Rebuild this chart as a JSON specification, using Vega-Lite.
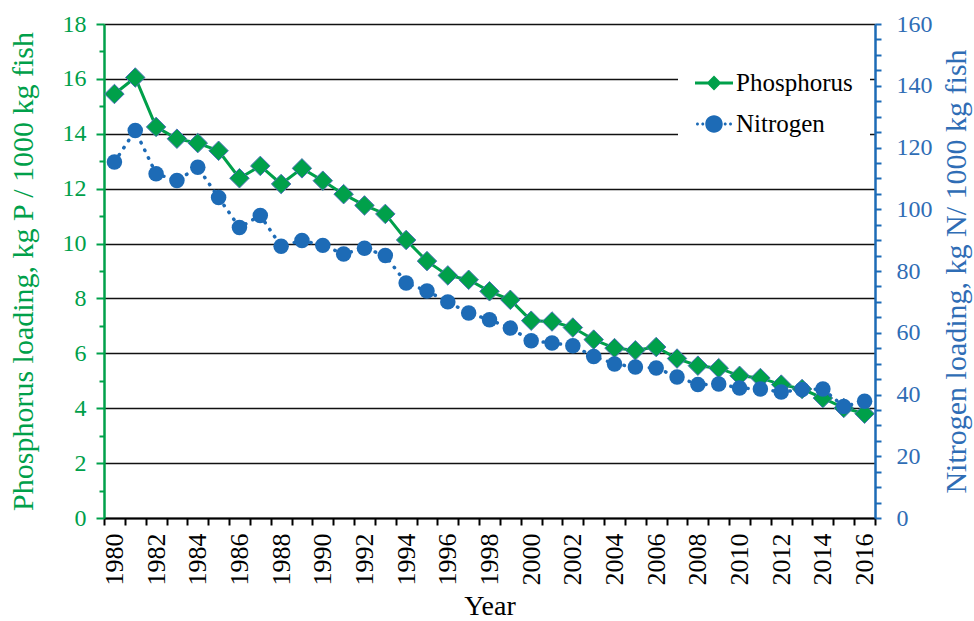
{
  "$schema": "https://vega.github.io/schema/vega-lite/v6.json",
  "width": 771,
  "height": 494,
  "autosize": {"type": "none"},
  "padding": {"left": 104, "top": 24, "right": 99, "bottom": 103},
  "background": "white",
  "config": {
    "view": {"stroke": null},
    "font": "Liberation Serif"
  },
  "data": {
    "values": [
      {"year": 1980, "P": 15.45, "N": 115.3},
      {"year": 1981, "P": 16.05, "N": 125.5},
      {"year": 1982, "P": 14.25, "N": 111.5},
      {"year": 1983, "P": 13.82, "N": 109.3},
      {"year": 1984, "P": 13.66, "N": 113.6},
      {"year": 1985, "P": 13.38, "N": 103.8},
      {"year": 1986, "P": 12.38, "N": 94.1},
      {"year": 1987, "P": 12.83, "N": 98.0},
      {"year": 1988, "P": 12.17, "N": 88.0},
      {"year": 1989, "P": 12.74, "N": 89.9},
      {"year": 1990, "P": 12.29, "N": 88.3},
      {"year": 1991, "P": 11.8, "N": 85.5},
      {"year": 1992, "P": 11.39, "N": 87.4},
      {"year": 1993, "P": 11.08, "N": 85.0},
      {"year": 1994, "P": 10.13, "N": 76.1},
      {"year": 1995, "P": 9.36, "N": 73.5},
      {"year": 1996, "P": 8.84, "N": 70.0},
      {"year": 1997, "P": 8.68, "N": 66.4},
      {"year": 1998, "P": 8.26, "N": 64.2},
      {"year": 1999, "P": 7.95, "N": 61.5},
      {"year": 2000, "P": 7.19, "N": 57.4},
      {"year": 2001, "P": 7.16, "N": 56.7},
      {"year": 2002, "P": 6.94, "N": 55.8},
      {"year": 2003, "P": 6.5, "N": 52.3},
      {"year": 2004, "P": 6.19, "N": 49.9},
      {"year": 2005, "P": 6.11, "N": 48.9},
      {"year": 2006, "P": 6.23, "N": 48.6},
      {"year": 2007, "P": 5.81, "N": 45.7},
      {"year": 2008, "P": 5.55, "N": 43.2},
      {"year": 2009, "P": 5.46, "N": 43.4},
      {"year": 2010, "P": 5.18, "N": 42.1},
      {"year": 2011, "P": 5.1, "N": 41.8},
      {"year": 2012, "P": 4.86, "N": 40.8},
      {"year": 2013, "P": 4.7, "N": 41.6},
      {"year": 2014, "P": 4.37, "N": 41.8},
      {"year": 2015, "P": 4.01, "N": 36.1},
      {"year": 2016, "P": 3.8, "N": 37.8}
    ]
  },
  "encoding": {
    "x": {
      "field": "year",
      "type": "ordinal",
      "scale": {"type": "band", "paddingInner": 0, "paddingOuter": 0},
      "axis": {
        "title": "Year",
        "tickBand": "extent",
        "labelAngle": -90,
        "labelAlign": "right",
        "labelBaseline": "middle",
        "labelOverlap": false,
        "labelExpr": "datum.value % 2 == 0 ? datum.label : ''",
        "labelFont": "Liberation Serif",
        "labelFontSize": 26,
        "labelColor": "black",
        "labelPadding": 8,
        "domainColor": "black",
        "domainWidth": 2,
        "tickColor": "black",
        "tickWidth": 2,
        "tickSize": 7,
        "titleFont": "Liberation Serif",
        "titleFontSize": 28,
        "titleFontWeight": "normal",
        "titleColor": "black",
        "titlePadding": 7
      }
    }
  },
  "layer": [
    {
      "encoding": {
        "y": {
          "field": "P",
          "type": "quantitative",
          "scale": {"domain": [0, 18], "nice": false, "zero": true},
          "axis": {
            "orient": "left",
            "title": "Phosphorus loading, kg P / 1000 kg fish",
            "values": [0, 1, 2, 3, 4, 5, 6, 7, 8, 9, 10, 11, 12, 13, 14, 15, 16, 17, 18],
            "labelExpr": "datum.value % 2 == 0 ? datum.label : ''",
            "grid": true,
            "gridColor": "#111111",
            "gridWidth": 1.5,
            "gridOpacity": {"condition": {"test": "datum.value % 2 == 0", "value": 1}, "value": 0},
            "tickSize": {"condition": {"test": "datum.value % 2 == 0", "value": 8}, "value": 5},
            "tickColor": "#00A04A",
            "tickWidth": 2,
            "domainColor": "#00A04A",
            "domainWidth": 2.5,
            "labelColor": "#00A04A",
            "labelFont": "Liberation Serif",
            "labelFontSize": 24,
            "labelPadding": 10,
            "titleFont": "Liberation Serif",
            "titleFontSize": 30,
            "titleFontWeight": "normal",
            "titleColor": "#00A04A",
            "titlePadding": 24
          }
        },
        "color": {
          "datum": "Phosphorus",
          "type": "nominal",
          "scale": {"domain": ["Phosphorus", "Nitrogen"], "range": ["#00A04A", "#1D6BB6"]},
          "legend": {
            "title": null,
            "orient": "none",
            "legendX": 574,
            "legendY": 23,
            "fillColor": "white",
            "padding": 17,
            "symbolSize": 1444,
            "symbolStrokeWidth": 0,
            "labelFont": "Liberation Serif",
            "labelFontSize": 25,
            "labelColor": "black",
            "labelOffset": 3,
            "rowPadding": 9,
            "encode": {
              "symbols": {
                "update": {
                  "shape": {"signal": "datum.value == 'Phosphorus' ? 'M-1,-0.08L1,-0.08L1,0.08L-1,0.08Z M0,-0.39L0.39,0L0,0.39L-0.39,0Z' : 'M-0.95,0A0.08,0.08 0 1,0 -0.79,0A0.08,0.08 0 1,0 -0.95,0Z M-0.67,0A0.08,0.08 0 1,0 -0.51,0A0.08,0.08 0 1,0 -0.67,0Z M-0.46,0A0.46,0.46 0 1,0 0.46,0A0.46,0.46 0 1,0 -0.46,0Z M0.51,0A0.08,0.08 0 1,0 0.67,0A0.08,0.08 0 1,0 0.51,0Z M0.79,0A0.08,0.08 0 1,0 0.95,0A0.08,0.08 0 1,0 0.79,0Z'"},
                  "fill": {"signal": "datum.value == 'Phosphorus' ? '#00A04A' : '#1D6BB6'"},
                  "fillOpacity": {"value": 1},
                  "strokeWidth": {"value": 0},
                  "opacity": {"value": 1}
                }
              }
            }
          }
        }
      },
      "layer": [
        {"mark": {"type": "line", "strokeWidth": 3}},
        {"mark": {"type": "point", "shape": "diamond", "filled": true, "size": 380, "opacity": 1, "stroke": "#4a72b8", "strokeWidth": 1}}
      ]
    },
    {
      "encoding": {
        "y": {
          "field": "N",
          "type": "quantitative",
          "scale": {"domain": [0, 160], "nice": false, "zero": true},
          "axis": {
            "orient": "right",
            "title": "Nitrogen loading, kg N/ 1000 kg fish",
            "titleAngle": -90,
            "titleBaseline": "top",
            "values": [0, 5, 10, 15, 20, 25, 30, 35, 40, 45, 50, 55, 60, 65, 70, 75, 80, 85, 90, 95, 100, 105, 110, 115, 120, 125, 130, 135, 140, 145, 150, 155, 160],
            "labelExpr": "datum.value % 20 == 0 ? datum.label : ''",
            "grid": false,
            "tickSize": 6,
            "tickColor": "#1D6BB6",
            "tickWidth": 2,
            "domainColor": "#1D6BB6",
            "domainWidth": 2.5,
            "labelColor": "#2F6DB5",
            "labelFont": "Liberation Serif",
            "labelFontSize": 24,
            "labelPadding": 15,
            "titleFont": "Liberation Serif",
            "titleFontSize": 30,
            "titleFontWeight": "normal",
            "titleColor": "#2F6DB5",
            "titlePadding": 9
          }
        },
        "color": {"datum": "Nitrogen", "type": "nominal"}
      },
      "layer": [
        {"mark": {"type": "line", "strokeWidth": 3.5, "strokeDash": [0.5, 8], "strokeCap": "round"}},
        {"mark": {"type": "point", "shape": "circle", "filled": true, "size": 240, "opacity": 1}}
      ]
    }
  ],
  "resolve": {"scale": {"y": "independent"}}
}
